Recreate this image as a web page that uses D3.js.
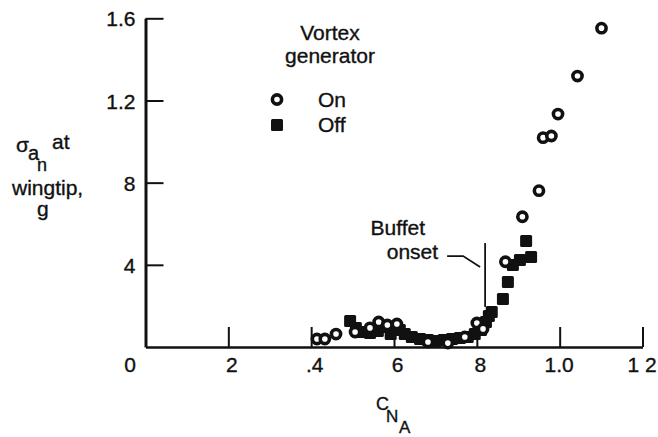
<!DOCTYPE html>
<html>
<head>
<meta charset="utf-8">
<script src="https://cdn.jsdelivr.net/npm/d3@7"></script>
<style>
  html, body { margin: 0; padding: 0; background: #fff; }
  svg text { font-family: "Liberation Sans", Arial, sans-serif; fill: #111; stroke: #111; stroke-width: 0.35px; }
</style>
</head>
<body>
<svg id="chart" width="658" height="437"></svg>
<script>
// Axis ticks and their printed labels
const xTickValues = [0, 0.2, 0.4, 0.6, 0.8, 1.0, 1.2];
const xTickLabels = ["0", "2", ".4", "6", "8", "1.0", "1 2"];
const yTickValues = [0.4, 0.8, 1.2, 1.6];
const yTickLabels = ["4", "8", "1.2", "1.6"];

// Vortex generator on (open circles): normal-force coefficient and rms wingtip acceleration
const onCNA   = [0.414, 0.433, 0.460, 0.506, 0.542, 0.563, 0.584, 0.607, 0.682, 0.730, 0.771,
                 0.800, 0.815, 0.869, 0.910, 0.950, 0.960, 0.980, 0.996, 1.043, 1.101];
const onSigma = [0.039, 0.039, 0.063, 0.073, 0.093, 0.122, 0.107, 0.112, 0.024, 0.019, 0.049,
                 0.117, 0.088, 0.415, 0.634, 0.761, 1.019, 1.027, 1.134, 1.319, 1.552];

// Vortex generator off (filled squares)
const offCNA   = [0.494, 0.508, 0.523, 0.542, 0.561, 0.578, 0.592, 0.614, 0.626, 0.643, 0.663,
                  0.682, 0.701, 0.720, 0.740, 0.759, 0.778, 0.795, 0.810, 0.822, 0.829, 0.836,
                  0.863, 0.875, 0.887, 0.904, 0.919, 0.931];
const offSigma = [0.127, 0.092, 0.073, 0.068, 0.078, 0.097, 0.063, 0.083, 0.063, 0.049, 0.039,
                  0.034, 0.029, 0.034, 0.039, 0.044, 0.049, 0.063, 0.083, 0.122, 0.151, 0.170,
                  0.234, 0.316, 0.399, 0.424, 0.516, 0.438];

// Buffet onset marker
const buffetOnsetCNA = 0.82;
const buffetOnsetRange = [0.195, 0.506];

const svg = d3.select("#chart");
const ink = "#111";

const x = d3.scaleLinear().domain([0, 1.2]).range([145.5, 642.5]);
const y = d3.scaleLinear().domain([0, 1.6]).range([347, 18.3]);

// x axis: ticks point up into the plot
const xAxis = d3.axisBottom(x)
  .tickValues(xTickValues)
  .tickFormat((d, i) => xTickLabels[i])
  .tickSizeInner(-20)
  .tickSizeOuter(0)
  .tickPadding(10);

const gx = svg.append("g").attr("transform", `translate(0,${y(0)})`).call(xAxis);
gx.select(".domain").attr("stroke", ink).attr("stroke-width", 2.6);
gx.selectAll(".tick line").attr("stroke", ink).attr("stroke-width", 2);
gx.selectAll(".tick text")
  .attr("font-size", 21)
  .attr("font-family", null)
  .attr("fill", ink)
  .attr("text-anchor", d => d === 0 ? "end" : "middle")
  .attr("dx", d => d === 0 ? -10 : (d >= 1 ? -1 : 3));

// y axis: ticks point right into the plot
const yAxis = d3.axisLeft(y)
  .tickValues(yTickValues)
  .tickFormat((d, i) => yTickLabels[i])
  .tickSizeInner(-18)
  .tickSizeOuter(0)
  .tickPadding(10);

const gy = svg.append("g").attr("transform", `translate(${x(0)},0)`).call(yAxis);
gy.select(".domain").attr("stroke", ink).attr("stroke-width", 3);
gy.selectAll(".tick line").attr("stroke", ink).attr("stroke-width", 2);
gy.selectAll(".tick text")
  .attr("font-size", 21)
  .attr("font-family", null)
  .attr("fill", ink)
  .attr("dy", "0.36em");

// Data: squares first, circles over them
const offData = offCNA.map((c, i) => ({ c, s: offSigma[i] }));
const onData = onCNA.map((c, i) => ({ c, s: onSigma[i] }));
const sq = 12;

svg.append("g").selectAll("rect").data(offData).join("rect")
  .attr("x", d => x(d.c) - sq / 2)
  .attr("y", d => y(d.s) - sq / 2)
  .attr("width", sq).attr("height", sq)
  .attr("rx", 1.5)
  .attr("fill", ink);

svg.append("g").selectAll("circle").data(onData).join("circle")
  .attr("cx", d => x(d.c))
  .attr("cy", d => y(d.s))
  .attr("r", 4.6)
  .attr("fill", "#fff")
  .attr("stroke", ink)
  .attr("stroke-width", 3.6);

// Buffet onset annotation
const bx = x(buffetOnsetCNA);
const bTop = y(buffetOnsetRange[1]);
svg.append("line")
  .attr("x1", bx).attr("x2", bx)
  .attr("y1", bTop).attr("y2", y(buffetOnsetRange[0]))
  .attr("stroke", ink).attr("stroke-width", 1.8);
svg.append("text").attr("x", bx - 60).attr("y", bTop - 8)
  .attr("text-anchor", "end").attr("font-size", 21).text("Buffet");
svg.append("text").attr("x", bx - 47).attr("y", bTop + 16)
  .attr("text-anchor", "end").attr("font-size", 21).text("onset");
svg.append("polyline")
  .attr("points", `${bx - 38},${bTop + 13} ${bx - 22},${bTop + 13} ${bx - 5},${bTop + 24}`)
  .attr("fill", "none").attr("stroke", ink).attr("stroke-width", 1.8);

// Legend
svg.append("text").attr("x", 330).attr("y", 40).attr("text-anchor", "middle")
  .attr("font-size", 21).text("Vortex");
svg.append("text").attr("x", 330).attr("y", 63).attr("text-anchor", "middle")
  .attr("font-size", 21).text("generator");
svg.append("circle").attr("cx", 277).attr("cy", 99.5).attr("r", 4.6)
  .attr("fill", "#fff").attr("stroke", ink).attr("stroke-width", 3.6);
svg.append("text").attr("x", 318).attr("y", 107).attr("font-size", 21).text("On");
svg.append("rect").attr("x", 277 - sq / 2).attr("y", 125 - sq / 2)
  .attr("width", sq).attr("height", sq).attr("rx", 1.5).attr("fill", ink);
svg.append("text").attr("x", 318).attr("y", 132).attr("font-size", 21).text("Off");

// y-axis title: sigma of a_n at wingtip, g (one text block, stacked pieces)
const yTitle = svg.append("text").attr("font-size", 21);
yTitle.append("tspan").attr("x", 16).attr("y", 152).text("σ");
yTitle.append("tspan").attr("x", 28).attr("y", 160).attr("font-size", 20).text("a");
yTitle.append("tspan").attr("x", 37).attr("y", 171).attr("font-size", 18).text("n");
yTitle.append("tspan").attr("x", 52).attr("y", 149).text("at");
yTitle.append("tspan").attr("x", 12).attr("y", 195).text("wingtip,");
yTitle.append("tspan").attr("x", 37).attr("y", 216).text("g");

// x-axis title: C_N_A
const xTitle = svg.append("text").attr("font-size", 18);
xTitle.append("tspan").attr("x", 376).attr("y", 410).text("C");
xTitle.append("tspan").attr("x", 386).attr("y", 422).attr("font-size", 17).text("N");
xTitle.append("tspan").attr("x", 399).attr("y", 433).attr("font-size", 17).text("A");
</script>
</body>
</html>
